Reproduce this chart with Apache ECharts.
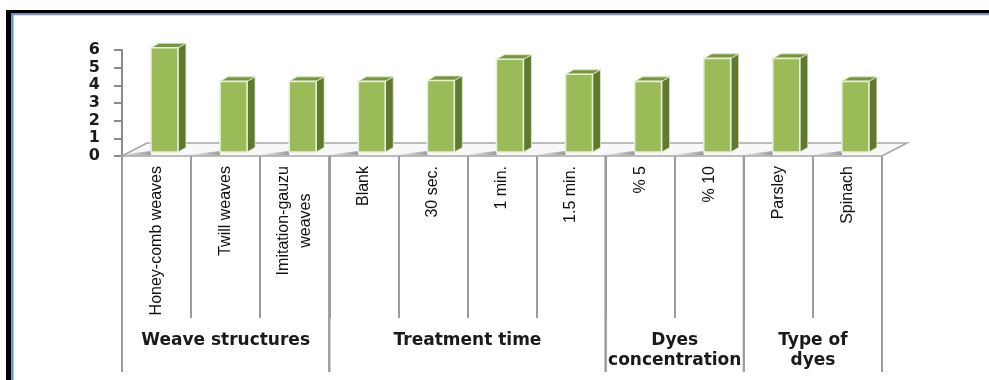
<!DOCTYPE html>
<html>
<head>
<meta charset="utf-8">
<script src="https://cdn.jsdelivr.net/npm/echarts@6/dist/echarts.min.js"></script>
<style>
  html, body { margin: 0; padding: 0; background: #ffffff; }
  #chart { width: 989px; height: 380px; }
</style>
</head>
<body>
<div id="chart"></div>
<script>
// Category labels, one bar per category
const categories = [
  'Honey-comb weaves', 'Twill weaves', 'Imitation-gauzu\nweaves',
  'Blank', '30 sec.', '1 min.', '1.5 min.',
  '% 5', '% 10',
  'Parsley', 'Spinach'
];
// Bar heights
const values = [5.9, 4, 4, 4, 4.05, 5.25, 4.4, 4, 5.3, 5.3, 4];

// Category groups shown under the rotated labels
const groupNames = ['Weave structures', 'Treatment time', 'Dyes\nconcentration', 'Type of\ndyes'];
const groupStart = [0, 3, 7, 9];
const groupEnd = [2, 6, 8, 10];

// Value axis
const yMin = 0;
const yMax = 6;
const yStep = 1;

const LABEL_FONT = '"Liberation Sans Narrow", "Liberation Sans", Arial, sans-serif';
const BOLD_FONT = '"DejaVu Sans", Verdana, sans-serif';

const chart = echarts.init(document.getElementById('chart'), null, { renderer: 'canvas' });

// Floor slab of the 3D plot area
function renderFloor(params, api) {
  const cs = params.coordSys;
  const fx0 = cs.x, fx1 = cs.x + cs.width, fy = cs.y + cs.height;
  const ddx = 25, ddy = -13;
  return {
    type: 'polygon',
    shape: { points: [[fx0, fy], [fx0 + ddx, fy + ddy], [fx1 + ddx, fy + ddy], [fx1, fy]] },
    style: { fill: '#f8f8f8', stroke: '#a8a8a8', lineWidth: 1.6 }
  };
}

// One 3D column: shadow, side face, top face, front face
function renderBar(params, api) {
  const i = api.value(0);
  const v = api.value(1);
  const base = api.coord([i, 0]);
  const top = api.coord([i, v]);
  const band = api.size([1, 0])[0];
  const w = band * 0.39;
  const dx = band * 0.115, dy = -4;
  const sx = 8, sy = -4.5;
  const x0 = base[0] + dx - w / 2, x1 = x0 + w;
  const yb = base[1] + dy, yt = top[1] + dy;
  return {
    type: 'group',
    children: [
      {
        type: 'polygon',
        shape: { points: [[x0 - 34, yb + 3], [x0, yb - 1], [x0, yb + 3], [x0 - 34, yb + 4]] },
        style: {
          fill: new echarts.graphic.LinearGradient(0, 0, 1, 0, [
            { offset: 0, color: 'rgba(150,150,150,0)' },
            { offset: 1, color: 'rgba(130,130,130,0.8)' }
          ])
        }
      },
      {
        type: 'polygon',
        shape: { points: [[x1, yt], [x1 + sx, yt + sy], [x1 + sx, yb + sy], [x1, yb]] },
        style: { fill: '#5f7a2f', stroke: '#dfe8cc', lineWidth: 0.8 }
      },
      {
        type: 'polygon',
        shape: { points: [[x0, yt], [x0 + sx, yt + sy], [x1 + sx, yt + sy], [x1, yt]] },
        style: { fill: '#78963e', stroke: '#dfe8cc', lineWidth: 0.8 }
      },
      {
        type: 'rect',
        shape: { x: x0, y: yt, width: w, height: yb - yt },
        style: { fill: '#9bbb59', stroke: '#e6efd6', lineWidth: 1.6 }
      }
    ]
  };
}

// Group captions with their long separators
function renderGroup(params, api) {
  const k = params.dataIndex;
  const s = api.value(0), e = api.value(1);
  const band = api.size([1, 0])[0];
  const xs = api.coord([s, 0])[0] - band / 2;
  const xe = api.coord([e, 0])[0] + band / 2;
  const y0 = params.coordSys.y + params.coordSys.height;
  const lineStyle = { stroke: '#9c9c9c', lineWidth: 2 };
  return {
    type: 'group',
    children: [
      { type: 'line', shape: { x1: xs, y1: y0, x2: xs, y2: y0 + 216 }, style: lineStyle },
      { type: 'line', shape: { x1: xe, y1: y0, x2: xe, y2: y0 + 216 }, style: lineStyle },
      {
        type: 'text',
        x: (xs + xe) / 2,
        y: y0 + 175,
        style: {
          text: groupNames[k],
          align: 'center',
          verticalAlign: 'top',
          font: 'bold 17px ' + BOLD_FONT,
          lineHeight: 20,
          fill: '#1a1a1a'
        }
      }
    ]
  };
}

const option = {
  backgroundColor: '#ffffff',
  animation: false,
  graphic: [
    { type: 'rect', shape: { x: 6, y: 10, width: 983, height: 3.4 }, style: { fill: '#000000' } },
    { type: 'rect', shape: { x: 6, y: 10, width: 5, height: 370 }, style: { fill: '#000000' } },
    { type: 'rect', shape: { x: 11, y: 13.4, width: 978, height: 1.8 }, style: { fill: '#6d96cf' } },
    { type: 'rect', shape: { x: 11, y: 13.4, width: 2.6, height: 367 }, style: { fill: '#6d96cf' } }
  ],
  grid: { left: 122, right: 107, top: 50, bottom: 224 },
  xAxis: {
    type: 'category',
    data: categories,
    boundaryGap: true,
    axisLine: { show: false },
    axisTick: {
      show: true,
      interval: 0,
      length: 162,
      lineStyle: { color: '#9c9c9c', width: 2 }
    },
    axisLabel: {
      interval: 0,
      rotate: 90,
      margin: 10,
      color: '#111111',
      fontFamily: LABEL_FONT,
      fontSize: 16,
      lineHeight: 22,
      formatter: function (val) {
        return val.split('\n').map(function (s) { return '{c|' + s + '}'; }).join('\n');
      },
      rich: {
        c: {
          align: 'center',
          fontFamily: LABEL_FONT,
          fontSize: 16,
          lineHeight: 22,
          color: '#111111'
        }
      }
    },
    splitLine: { show: false }
  },
  yAxis: {
    type: 'value',
    min: yMin,
    max: yMax,
    interval: yStep,
    axisLine: { show: true, lineStyle: { color: '#8a8a8a', width: 2 } },
    axisTick: { show: true, length: 8, lineStyle: { color: '#8a8a8a', width: 2 } },
    axisLabel: {
      margin: 22,
      color: '#1a1a1a',
      fontFamily: BOLD_FONT,
      fontWeight: 'bold',
      fontSize: 16
    },
    splitLine: { show: false }
  },
  series: [
    {
      type: 'custom',
      name: 'floor',
      z: 1,
      silent: true,
      renderItem: renderFloor,
      data: [[0, 0]]
    },
    {
      type: 'custom',
      name: 'groups',
      z: 1,
      silent: true,
      renderItem: renderGroup,
      encode: { x: [0, 1] },
      data: groupNames.map(function (n, k) { return [groupStart[k], groupEnd[k]]; })
    },
    {
      type: 'custom',
      name: 'bars',
      z: 3,
      renderItem: renderBar,
      encode: { x: 0, y: 1 },
      data: values.map(function (v, i) { return [i, v]; })
    }
  ]
};

chart.setOption(option);
</script>
</body>
</html>
